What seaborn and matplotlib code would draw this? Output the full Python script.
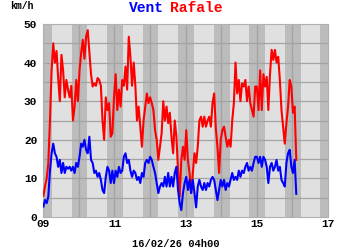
import numpy as np
import pandas as pd
import matplotlib
matplotlib.use("Agg")
import matplotlib.pyplot as plt
import seaborn as sns

# ---------------- data ----------------
start_time = "2026-02-09 00:00"
end_time = "2026-02-16 02:50"

rafale = [  # gusts, km/h
    5.5, 8, 10, 14, 25, 38, 45, 40, 43, 36, 30, 42, 38, 31, 35.5, 33, 31, 34, 25, 28.6,
    35.5, 30, 38, 42.5, 45.9, 41, 46.7, 48.4, 42.5, 37, 33.8, 34.6, 34, 36, 35.5, 34, 25, 20,
    31, 27.7, 29.5, 20.8,
    21.7, 31, 37, 27.7, 33, 28.6, 35.5, 34, 39, 33, 46.7, 41.5, 34, 40, 34, 25, 28.6, 23.4,
    18.2, 25, 28.6, 32, 29.5, 31, 29.5, 27.7, 22.5, 20, 14.8, 18.2, 21.7, 30, 25, 28.6, 24.3,
    27, 20.8, 16.5, 25, 20.8, 12, 5.3, 14.8, 18.2,
    14.8, 22.5, 14.8, 11.4, 6.2, 11.4, 16.5, 14, 18.2, 25, 26, 23.4, 26, 23.4, 25, 26, 23.4,
    29.5, 32, 23, 18.2, 11.4, 20, 22.5, 23.4, 20.8, 18.2, 20, 18.2, 25, 29.5, 40, 32, 35.5,
    30, 34.6, 33.8, 35.5, 30, 33.8, 29.5, 27.7, 26, 33.8,
    33.8, 27.7, 38, 27.7, 37, 33.8, 36.3, 27.7, 37, 43.3, 40.7, 43.3, 40, 41.5, 35.5, 27.7,
    23.4, 19, 24.3, 28.6, 35.5, 33.8, 27, 28.6, 14.8,
]

vent = [  # mean wind, km/h
    2.7, 4.4, 3.6, 5.3, 12, 16.5, 19, 16.5, 15.6, 13, 14.8, 11.4, 14, 11.4, 13, 12.5, 13, 12,
    13, 11.4, 14, 13, 15.6, 19, 18.2, 20, 17.4, 16.5, 20.8, 14.8, 14, 11.4, 12, 10.4, 11.4,
    9.6, 7, 6.2, 10.4, 13, 12, 8.8,
    12, 8.8, 12, 10.4, 13, 11.4, 12, 15.6, 16.5, 14, 14.8, 12, 10.4, 12, 11.4, 9.6, 10.4, 8.8,
    11.4, 10.4, 14, 14.8, 14, 15.6, 14.8, 13, 11.4, 8.8, 6.2, 7.9, 8.8, 7.9, 10.4, 7.9, 11.4,
    7.9, 10.4, 7.9, 11.4, 13, 7, 3.6, 1.8, 6.2,
    8.8, 10.4, 7, 9.6, 6.2, 9.6, 6.2, 2.5, 7.9, 9.6, 7.9, 7, 8.8, 7, 8.8, 7.9, 9.6, 10.4, 9.6,
    7, 4.4, 7, 9.6, 7.9, 9.6, 7, 8.8, 7.9, 9.6, 11.4, 9.6, 10.4, 9.6, 12, 10.4, 12, 11.4, 13,
    14, 12, 13, 12, 14, 15.6,
    15.6, 14, 15.6, 13, 15.6, 14.8, 13, 8.8, 13, 14, 12, 13, 14.8, 12, 13, 9.6, 8.8, 7.9, 14,
    16.5, 17.4, 13, 11.4, 14.8, 6,
]

x_tick_labels = ["09", "11", "13", "15", "17"]
y_ticks = [0, 10, 20, 30, 40, 50]
title_parts = [("Vent", "#0000ff"), ("Rafale", "#ff0000")]
unit_label = "km/h"
date_label = "16/02/26 04h00"

times = pd.date_range(start_time, end_time, periods=len(rafale))
df = pd.DataFrame({"time": times, "Rafale": rafale, "Vent": vent})

# ---------------- figure ----------------
mono = ["Liberation Mono", "DejaVu Sans Mono"]
plt.rcParams["font.family"] = mono
plt.rcParams["font.weight"] = "bold"

fig = plt.figure(figsize=(3.5, 2.5), dpi=100)
ax = fig.add_axes([0.124, 0.132, 0.812, 0.772])
ax.set_facecolor("#e0e0e0")

x0 = pd.Timestamp("2026-02-09")
x1 = pd.Timestamp("2026-02-17")

# night bands
for d in pd.date_range("2026-02-08", "2026-02-16", freq="D"):
    s = max(d + pd.Timedelta(hours=19), x0)
    e = min(d + pd.Timedelta(hours=29, minutes=45), x1)
    if e > s:
        ax.axvspan(s, e, color="#bcbcbc", lw=0, zorder=0)

sns.lineplot(data=df, x="time", y="Rafale", color="#ff0000", lw=1.5, ax=ax, zorder=3)
sns.lineplot(data=df, x="time", y="Vent", color="#0000ff", lw=1.5, ax=ax, zorder=4)

ax.set_xlim(x0, x1)
ax.set_ylim(0, 50)

# grid
for yv in range(5, 50, 5):
    ax.axhline(yv, color="#a4a4a4", lw=0.9, zorder=1)
for d in pd.date_range("2026-02-10", "2026-02-16", freq="D"):
    ax.axvline(d, color="#a4a4a4", lw=1.0, zorder=1)

ax.set_xticks(pd.date_range("2026-02-09", "2026-02-17", freq="2D"))
ax.set_xticklabels(x_tick_labels, fontsize=8, fontweight="bold")
ax.set_yticks(y_ticks)
ax.set_yticklabels([str(v) for v in y_ticks], fontsize=8, fontweight="bold")
ax.tick_params(length=0)
ax.tick_params(axis="x", pad=1.5)
ax.tick_params(axis="y", pad=4.5)
ax.set_xlabel("")
ax.set_ylabel("")
for sp in ax.spines.values():
    sp.set_color("#b0b0b0")
    sp.set_linewidth(0.8)

# texts
fig.text(10 / 350, 1 - 6 / 250, unit_label, fontsize=7, fontweight="bold",
         ha="left", va="center")
fig.text(146 / 350, 1 - 8 / 250, title_parts[0][0], color=title_parts[0][1],
         fontsize=10.5, fontweight="bold", ha="center", va="center")
fig.text(196 / 350, 1 - 8 / 250, title_parts[1][0], color=title_parts[1][1],
         fontsize=10.5, fontweight="bold", ha="center", va="center")
fig.text(176 / 350, 1 - 244 / 250, date_label, fontsize=7.5, fontweight="bold",
         ha="center", va="center")

fig.savefig("out.png", dpi=100, facecolor="white")
